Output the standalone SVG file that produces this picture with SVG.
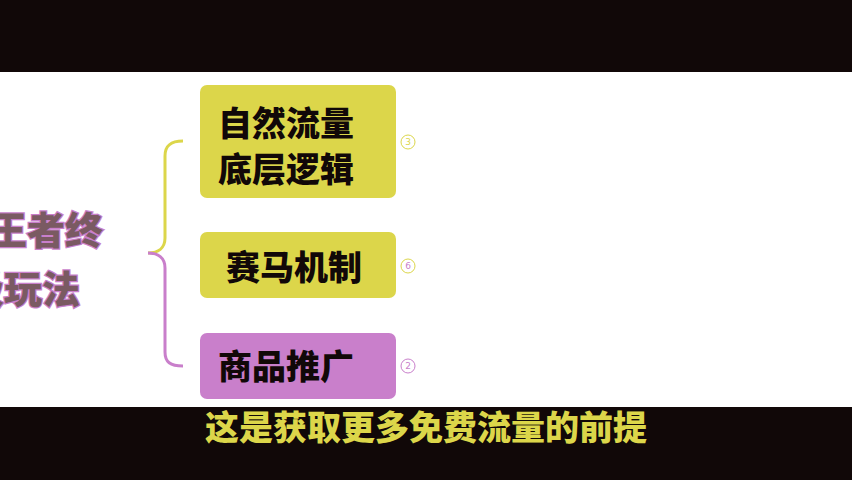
<svg xmlns="http://www.w3.org/2000/svg" width="852" height="480" viewBox="0 0 852 480">
<style>
.bar{fill:#110808}
.box-y{fill:#dcd64a}
.box-p{fill:#c97fcb}
.lbl{font-family:"Noto Sans CJK SC","Noto Sans",sans-serif;font-weight:900;font-size:34px;fill:#110808}
.num{font-family:"DejaVu Sans","Noto Sans CJK SC",sans-serif;font-size:9px}
.title{font-family:"Noto Sans CJK SC","Noto Sans",sans-serif;font-weight:900;font-size:38px;fill:#7a5a62;stroke:#c97fcb;stroke-width:2.5;paint-order:stroke}
.sub{font-family:"Noto Sans CJK SC","Noto Sans",sans-serif;font-weight:900;font-size:34px;fill:#dcd64a;stroke:#110808;stroke-width:3;paint-order:stroke}
</style>
<rect width="852" height="480" fill="#ffffff"/>
<rect class="bar" x="0" y="0" width="852" height="72"/>
<rect class="bar" x="0" y="407" width="852" height="73"/>
<g id="root">
<text class="title" x="103" y="244" text-anchor="end">王者终</text>
<text class="title" x="80" y="303" text-anchor="end">极玩法</text>
</g>
<g id="connectors" fill="none" stroke-width="3">
<path d="M183,141 C170,141 165,146 165,156 L165,238 C165,248 158,253 148,253" stroke="#dcd64a"/>
<path d="M148,253 C158,253 165,258 165,268 L165,352 C165,362 170,366 183,366" stroke="#c97fcb"/>
</g>
<g id="node1">
<rect class="box-y" x="200" y="85" width="196" height="113" rx="7"/>
<text class="lbl" x="218" y="136">自然流量</text>
<text class="lbl" x="218" y="182">底层逻辑</text>
<circle cx="408" cy="142" r="7" fill="none" stroke="#dcd64a" stroke-width="1"/>
<text class="num" x="408" y="145" text-anchor="middle" fill="#dcd64a">3</text>
</g>
<g id="node2">
<rect class="box-y" x="200" y="232" width="196" height="66" rx="7"/>
<text class="lbl" x="226" y="280">赛马机制</text>
<circle cx="408" cy="266" r="7" fill="none" stroke="#dcd64a" stroke-width="1"/>
<text class="num" x="408" y="269" text-anchor="middle" fill="#c97fcb">6</text>
</g>
<g id="node3">
<rect class="box-p" x="200" y="333" width="196" height="66" rx="7"/>
<text class="lbl" x="218" y="379">商品推广</text>
<circle cx="408" cy="366" r="7" fill="none" stroke="#c97fcb" stroke-width="1"/>
<text class="num" x="408" y="369" text-anchor="middle" fill="#c97fcb">2</text>
</g>
<text class="sub" x="426" y="440" text-anchor="middle">这是获取更多免费流量的前提</text>
</svg>
